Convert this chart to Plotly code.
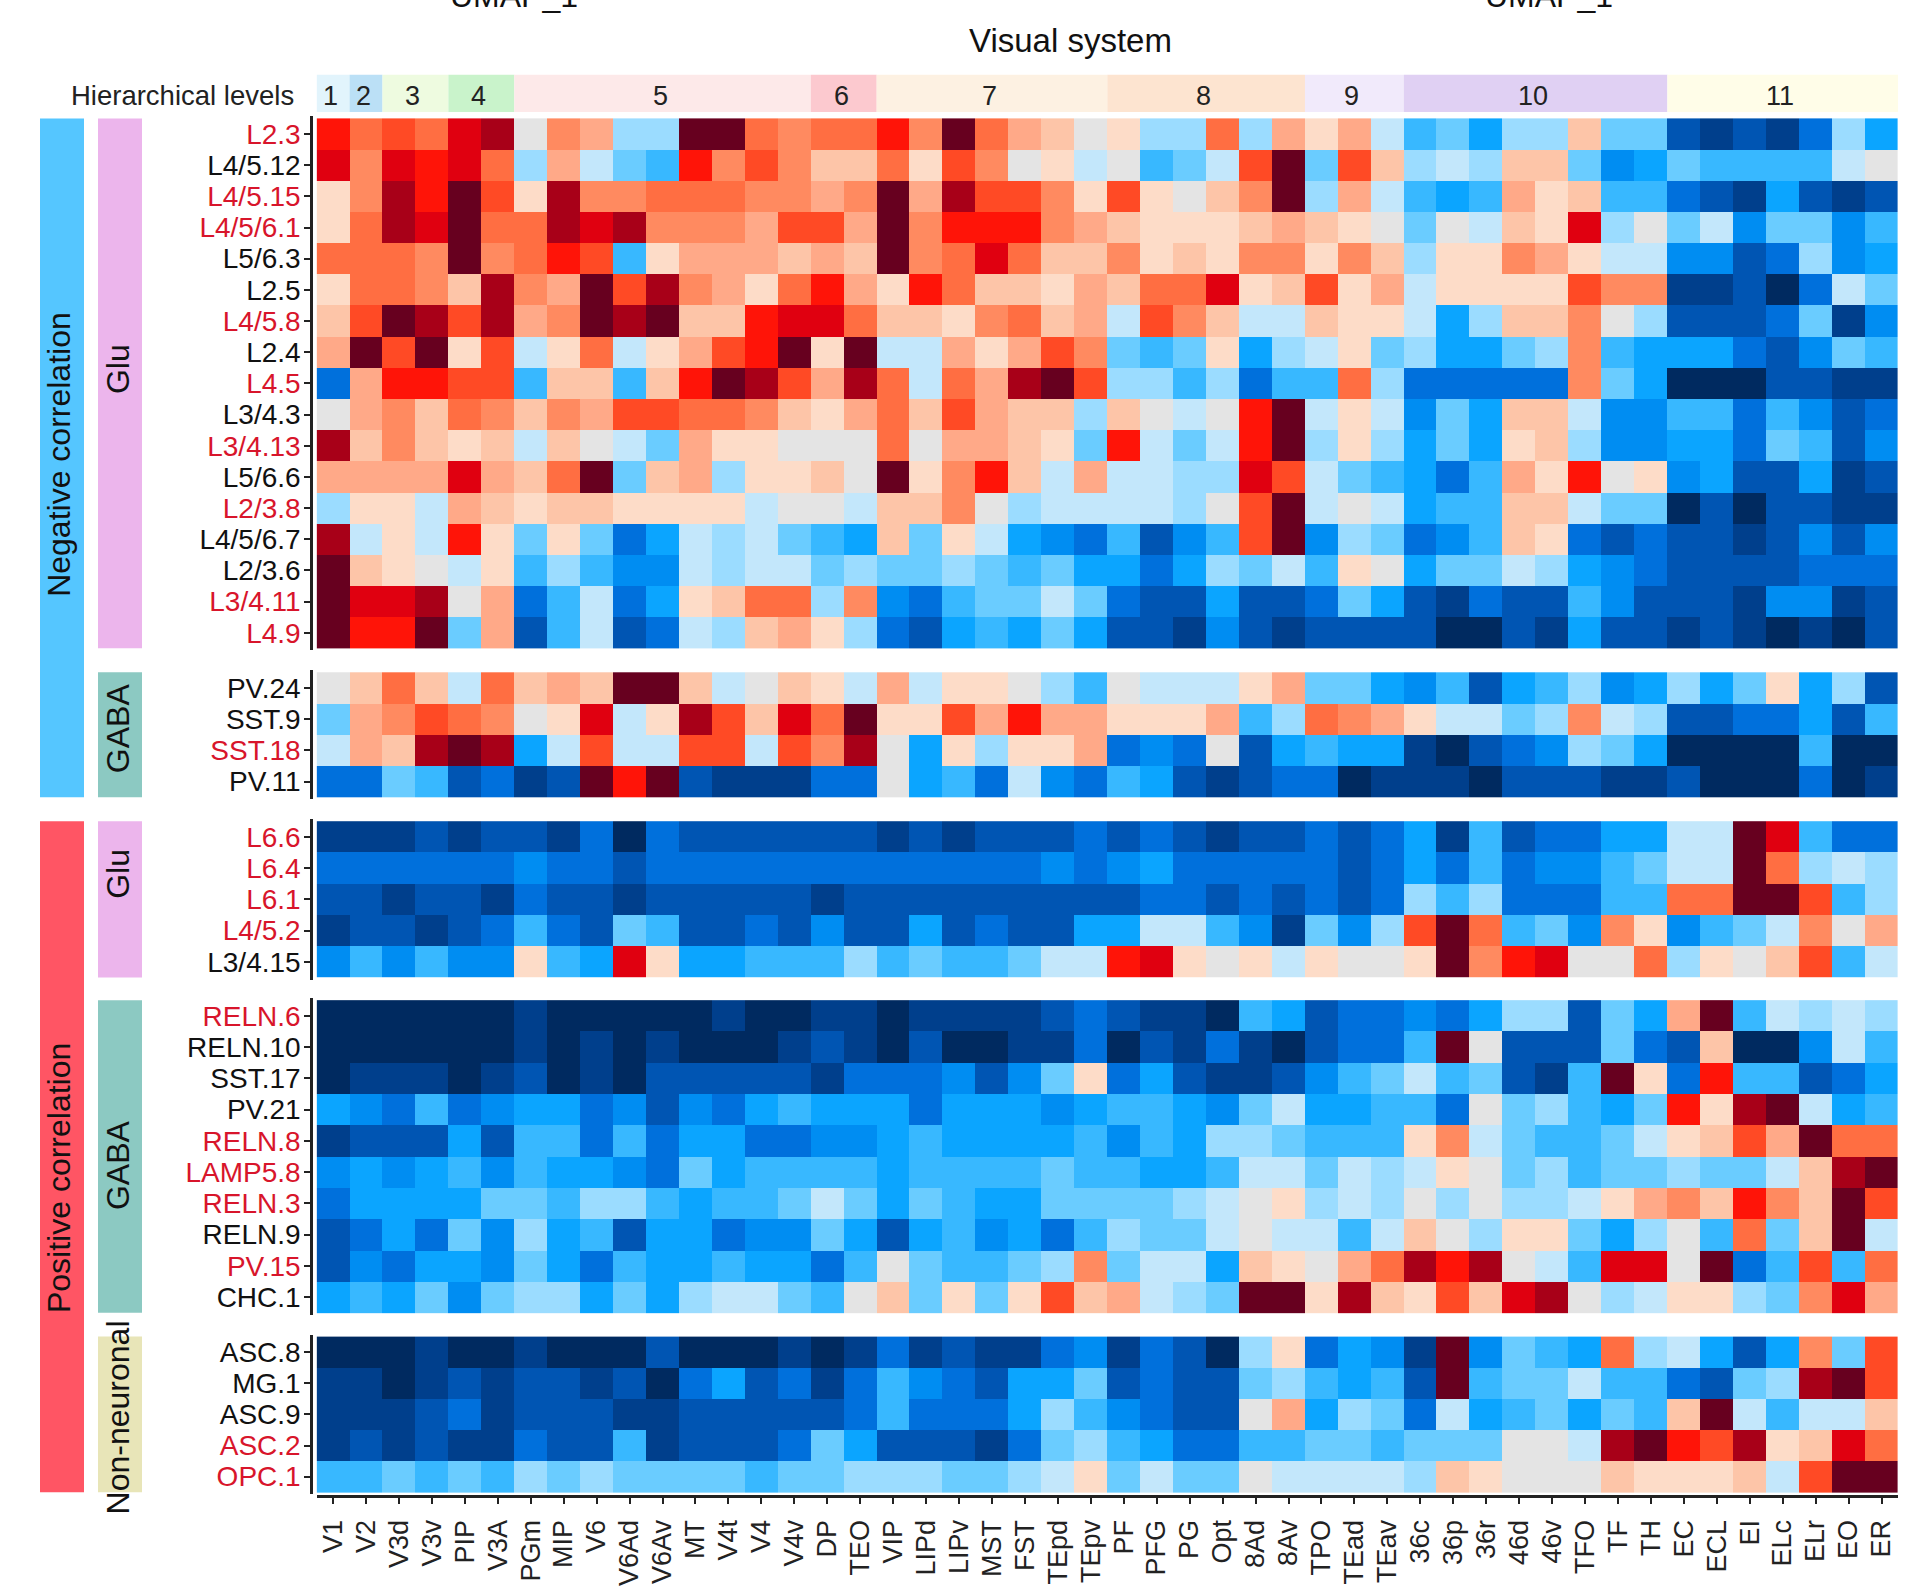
import plotly.graph_objects as go

areas = ["V1","V2","V3d","V3v","PIP","V3A","PGm","MIP","V6","V6Ad","V6Av","MT","V4t","V4","V4v","DP","TEO","VIP",
         "LIPd","LIPv","MST","FST","TEpd","TEpv","PF","PFG","PG","Opt","8Ad","8Av","TPO","TEad","TEav","36c","36p",
         "36r","46d","46v","TFO","TF","TH","EC","ECL","EI","ELc","ELr","EO","ER"]
level_names = ["1","2","3","4","5","6","7","8","9","10","11"]
level_sizes = [1,1,2,2,9,2,7,6,3,8,7]
level_colors = ["#e2f4fc","#bbe0f6","#eefbe0","#c9f3cb","#fde9e9","#fcc9cf","#fdf1e2","#fde4d0","#f1eafb","#e0d0f3","#fffde8"]

# correlation x 10
glu_neg_labels = ["L2.3","L4/5.12","L4/5.15","L4/5/6.1","L5/6.3","L2.5","L4/5.8","L2.4","L4.5","L3/4.3","L3/4.13",
                  "L5/6.6","L2/3.8","L4/5/6.7","L2/3.6","L3/4.11","L4.9"]
glu_neg = [
    [7,5,6,5,8,9,0,4,3,-2,-2,10,10,5,4,5,5,7,4,10,5,3,2,0,1,-2,-2,5,-2,3,1,3,-1,-4,-3,-5,-2,-2,2,-3,-3,-8,-9,-8,-9,-7,-2,-5],
    [8,4,8,7,8,5,-2,3,-1,-3,-4,7,4,6,4,2,2,5,1,6,4,0,1,-1,0,-4,-3,-1,6,10,-3,6,2,-2,-1,-2,2,2,-3,-6,-5,-3,-4,-4,-4,-4,-1,0],
    [1,4,9,7,10,6,1,9,4,4,5,5,5,4,4,3,4,10,3,9,6,6,4,1,6,1,0,2,4,10,-2,3,-1,-4,-5,-4,3,1,2,-4,-4,-7,-8,-9,-5,-8,-9,-8],
    [1,5,9,8,10,5,5,9,8,9,4,4,4,3,6,6,3,10,4,7,7,7,4,3,2,1,1,1,2,3,2,1,0,-3,0,-1,2,1,8,-2,0,-3,-1,-6,-3,-3,-6,-4],
    [5,5,5,4,10,4,5,7,6,-4,1,3,3,3,2,3,2,10,4,5,8,5,2,2,4,1,2,1,4,4,1,4,2,-2,1,1,4,3,1,-1,-1,-6,-6,-8,-7,-2,-6,-5],
    [1,5,5,4,2,9,4,3,10,6,9,4,3,1,5,7,3,1,7,5,2,2,1,3,2,5,5,8,1,2,6,1,3,-1,1,1,1,1,6,4,4,-9,-9,-8,-10,-7,-1,-3],
    [2,6,10,9,6,9,3,4,10,9,10,2,2,7,8,8,5,2,2,1,4,5,2,3,-1,6,4,2,-1,-1,2,1,1,-1,-5,-2,2,2,4,0,-2,-8,-8,-8,-7,-3,-9,-6],
    [3,10,6,10,1,6,-1,1,5,-1,1,3,6,7,10,1,10,-1,-1,3,1,3,6,4,-3,-4,-3,1,-5,-2,-1,1,-3,-2,-5,-5,-3,-2,4,-4,-5,-5,-5,-7,-8,-6,-3,-4],
    [-7,3,7,7,6,6,-4,2,2,-4,2,7,10,9,6,3,9,5,-1,5,3,9,10,6,-2,-2,-4,-2,-7,-4,-4,5,-2,-7,-7,-7,-7,-7,4,-3,-5,-10,-10,-10,-8,-8,-9,-9],
    [0,3,4,2,5,4,2,4,3,6,6,5,5,4,2,1,3,5,2,6,3,2,2,-2,2,0,-1,0,7,10,-1,1,-1,-6,-3,-5,2,2,-1,-6,-6,-4,-4,-7,-4,-6,-8,-7],
    [9,2,4,2,1,2,-1,2,0,-1,-3,3,1,1,0,0,0,5,0,3,3,2,1,-3,7,-1,-3,-1,7,10,-2,1,-2,-5,-3,-5,1,2,-2,-6,-6,-5,-5,-7,-3,-4,-8,-6],
    [3,3,3,3,8,3,2,5,10,-3,2,3,-2,1,1,2,0,10,1,4,7,2,-1,3,-1,-1,-2,-2,8,6,-1,-3,-4,-5,-7,-4,3,1,7,0,1,-6,-5,-8,-8,-5,-9,-8],
    [-2,1,1,-1,3,2,1,2,2,1,1,1,1,-1,0,0,-1,2,2,4,0,-2,-1,-1,-1,-1,-2,0,6,10,-1,0,-1,-5,-4,-4,2,2,-1,-3,-3,-10,-8,-10,-8,-8,-9,-9],
    [9,-1,1,-1,7,1,-3,1,-3,-7,-5,-1,-2,-1,-3,-4,-5,2,-3,1,-1,-5,-6,-7,-4,-8,-6,-4,6,10,-6,-2,-3,-7,-6,-4,2,1,-7,-8,-7,-8,-8,-9,-8,-6,-8,-6],
    [10,2,1,0,-1,1,-4,-2,-4,-6,-6,-1,-2,-1,-1,-3,-2,-3,-3,-2,-3,-4,-3,-5,-5,-7,-5,-2,-3,-1,-4,1,0,-5,-3,-3,-1,-2,-5,-6,-7,-8,-8,-8,-8,-7,-7,-7],
    [10,8,8,9,0,3,-7,-4,-1,-7,-5,1,2,5,5,-2,4,-6,-7,-4,-3,-3,-1,-3,-7,-8,-8,-5,-8,-8,-7,-3,-5,-8,-9,-7,-8,-8,-4,-6,-8,-8,-8,-9,-6,-6,-9,-8],
    [10,7,7,10,-3,3,-8,-4,-1,-8,-7,-1,-2,2,3,1,-2,-7,-8,-5,-4,-5,-3,-5,-8,-8,-9,-6,-8,-9,-8,-8,-8,-8,-10,-10,-8,-9,-5,-8,-8,-9,-8,-9,-10,-9,-10,-8],
]

gaba_neg_labels = ["PV.24","SST.9","SST.18","PV.11"]
gaba_neg = [
    [0,2,5,2,-1,5,2,3,2,10,10,2,-1,0,2,1,-1,3,-1,1,1,0,-2,-4,0,-1,-1,-1,1,3,-3,-3,-5,-6,-4,-8,-5,-4,-2,-6,-5,-2,-5,-3,1,-5,-2,-8],
    [-3,3,4,6,5,4,0,1,8,-1,1,9,6,2,8,5,10,1,1,6,3,7,3,3,1,1,1,3,-4,-2,5,4,3,1,-1,-1,-3,-2,4,-1,-2,-8,-8,-7,-7,-5,-8,-4],
    [-1,3,2,9,10,9,-5,-1,6,-1,-1,6,6,-1,6,4,9,0,-5,1,-2,1,1,3,-7,-6,-7,0,-8,-5,-4,-5,-5,-9,-10,-8,-7,-6,-2,-3,-5,-10,-10,-10,-10,-4,-10,-10],
    [-7,-7,-3,-4,-8,-7,-9,-8,10,7,10,-8,-9,-9,-9,-7,-7,0,-5,-4,-7,-1,-6,-7,-4,-5,-8,-9,-8,-7,-7,-10,-9,-9,-9,-10,-8,-8,-8,-9,-9,-8,-10,-10,-10,-7,-10,-9],
]

glu_pos_labels = ["L6.6","L6.4","L6.1","L4/5.2","L3/4.15"]
glu_pos = [
    [-9,-9,-9,-8,-9,-8,-8,-9,-7,-10,-7,-8,-8,-8,-8,-8,-8,-9,-8,-9,-8,-8,-8,-7,-8,-7,-8,-9,-8,-8,-7,-8,-7,-5,-9,-4,-8,-7,-7,-5,-5,-1,-1,10,8,-4,-7,-7],
    [-7,-7,-7,-7,-7,-7,-6,-7,-7,-8,-7,-7,-7,-7,-7,-7,-7,-7,-7,-7,-7,-7,-6,-7,-6,-5,-7,-7,-7,-7,-7,-8,-7,-5,-7,-4,-7,-6,-6,-4,-3,-1,-1,10,5,-2,-1,-2],
    [-8,-8,-9,-8,-8,-9,-7,-8,-8,-9,-8,-8,-8,-8,-8,-9,-8,-8,-8,-8,-8,-8,-8,-8,-8,-7,-7,-8,-7,-8,-7,-8,-7,-2,-4,-2,-7,-7,-7,-4,-4,5,5,10,10,6,-4,-2],
    [-9,-8,-8,-9,-8,-7,-4,-7,-8,-3,-4,-8,-8,-7,-8,-6,-8,-8,-5,-8,-7,-8,-8,-5,-5,-1,-1,-4,-6,-9,-3,-6,-2,6,10,5,-4,-3,-6,4,1,-6,-4,-3,-1,4,0,3],
    [-6,-4,-6,-4,-6,-6,1,-4,-5,8,1,-5,-5,-4,-4,-4,-2,-4,-3,-4,-4,-3,-1,-1,7,8,1,0,1,-1,1,0,0,1,10,4,7,8,0,0,5,-2,1,0,2,6,-4,-1],
]

gaba_pos_labels = ["RELN.6","RELN.10","SST.17","PV.21","RELN.8","LAMP5.8","RELN.3","RELN.9","PV.15","CHC.1"]
gaba_pos = [
    [-10,-10,-10,-10,-10,-10,-9,-10,-10,-10,-10,-10,-9,-10,-10,-9,-9,-10,-9,-9,-9,-9,-8,-7,-8,-9,-9,-10,-4,-5,-8,-7,-7,-6,-7,-5,-2,-2,-8,-3,-5,3,10,-4,-1,-2,-1,-2],
    [-10,-10,-10,-10,-10,-10,-9,-10,-9,-10,-9,-10,-10,-10,-9,-8,-9,-10,-8,-10,-10,-9,-9,-7,-10,-8,-9,-7,-9,-10,-8,-7,-7,-4,10,0,-8,-8,-8,-3,-7,-8,2,-10,-10,-6,-1,-4],
    [-10,-9,-9,-9,-10,-9,-8,-10,-9,-10,-8,-8,-8,-8,-8,-9,-7,-7,-7,-6,-8,-6,-3,1,-7,-5,-8,-9,-9,-8,-6,-4,-3,-1,-4,-3,-8,-9,-4,10,1,-7,7,-4,-4,-8,-7,-5],
    [-5,-6,-7,-4,-7,-6,-5,-5,-7,-6,-8,-6,-7,-5,-4,-5,-5,-5,-7,-5,-5,-5,-6,-5,-4,-4,-5,-6,-3,-1,-5,-5,-4,-4,-7,0,-3,-2,-4,-5,-3,7,1,9,10,-1,-5,-4],
    [-9,-8,-8,-8,-5,-8,-4,-4,-7,-4,-7,-5,-5,-7,-7,-6,-6,-5,-4,-5,-5,-5,-5,-4,-6,-4,-5,-2,-2,-3,-4,-4,-4,1,4,-1,-3,-4,-4,-3,-1,1,2,6,3,10,5,5],
    [-6,-5,-6,-5,-4,-6,-4,-5,-5,-6,-7,-3,-5,-4,-4,-4,-4,-5,-4,-4,-4,-4,-3,-4,-4,-5,-5,-4,-1,-1,-3,-1,-2,-1,1,0,-3,-2,-4,-3,-3,-2,-3,-3,-1,2,9,10],
    [-7,-5,-5,-5,-5,-3,-3,-4,-2,-2,-4,-5,-4,-4,-3,-1,-3,-5,-3,-4,-5,-5,-3,-3,-3,-3,-2,-1,0,1,-2,-1,-2,0,-2,0,-2,-2,-1,1,3,4,2,7,4,2,10,6],
    [-8,-7,-5,-7,-3,-6,-2,-5,-4,-8,-5,-5,-7,-6,-6,-3,-5,-8,-5,-4,-6,-5,-7,-4,-2,-3,-3,-1,0,-1,-1,-4,-1,2,0,-2,1,1,-3,-5,-2,0,-4,5,-3,2,10,-1],
    [-8,-6,-7,-5,-5,-6,-3,-5,-7,-4,-5,-5,-4,-5,-5,-7,-4,0,-3,-4,-4,-3,-2,4,-3,-1,-1,-5,2,1,0,3,5,9,7,9,0,-1,-4,8,8,0,10,-7,-4,6,-4,5],
    [-5,-4,-5,-3,-6,-3,-2,-2,-5,-3,-5,-2,-1,-1,-3,-4,0,2,-3,1,-3,1,6,2,3,-1,-2,-3,10,10,1,9,2,1,6,2,8,9,0,-2,-1,1,1,-2,-3,4,8,3],
]

nonneuronal_labels = ["ASC.8","MG.1","ASC.9","ASC.2","OPC.1"]
nonneuronal = [
    [-10,-10,-10,-9,-10,-10,-9,-10,-10,-10,-8,-10,-10,-10,-9,-10,-9,-7,-9,-8,-9,-9,-7,-6,-9,-7,-8,-10,-2,1,-7,-5,-6,-9,10,-6,-3,-4,-5,5,-2,-1,-5,-8,-5,4,-3,6],
    [-9,-9,-10,-9,-8,-9,-8,-8,-9,-8,-10,-7,-5,-8,-7,-9,-7,-4,-6,-7,-8,-5,-5,-3,-8,-7,-8,-8,-3,-2,-4,-5,-4,-8,10,-4,-3,-3,-1,-4,-4,-7,-8,-3,-2,9,10,6],
    [-9,-9,-9,-8,-7,-9,-8,-8,-8,-9,-9,-8,-8,-8,-8,-8,-7,-4,-7,-7,-7,-5,-2,-4,-6,-7,-8,-8,0,3,-5,-2,-3,-7,-1,-5,-4,-3,-5,-3,-4,2,10,-1,-4,-1,-1,2],
    [-9,-8,-9,-8,-9,-9,-7,-8,-8,-4,-9,-8,-8,-8,-7,-3,-5,-8,-8,-8,-9,-7,-3,-2,-4,-5,-7,-7,-4,-4,-3,-3,-4,-3,-3,-3,0,0,-1,9,10,7,6,9,1,2,8,5],
    [-4,-4,-3,-4,-3,-4,-2,-3,-2,-3,-3,-3,-3,-4,-3,-3,-2,-2,-2,-3,-3,-2,-1,1,-3,-1,-3,-3,0,-1,-1,-1,-1,-2,2,1,0,0,0,2,1,1,1,2,-1,6,10,10],
]

red_labels = ["L2.3","L4/5.15","L4/5/6.1","L4/5.8","L4.5","L3/4.13","L2/3.8","L3/4.11","L4.9","SST.18","L6.6","L6.4","L6.1",
              "L4/5.2","RELN.6","RELN.8","LAMP5.8","RELN.3","PV.15","ASC.2","OPC.1"]

colorscale_hex = ["#002a60","#003f8c","#0055b3","#0070dc","#008df2","#0ba5ff","#38b8ff","#6accff","#9bdcff","#c3e7fb","#e4e4e4",
                  "#fddcc8","#fdc5a8","#ffa988","#ff8a60","#ff6e42","#ff4a25","#ff1408","#e00010","#a80018","#67001f"]
colorscale = [[i / 20, c] for i, c in enumerate(colorscale_hex)]

W = 1920
H = 1586
FONT = "Liberation Sans"


def px(x):
    return x / W


def py(y):
    return 1 - y / H


fig = go.Figure()

# panel tops/bottoms in page pixels
panels = [
    (glu_neg, glu_neg_labels, 118.7, 650),
    (gaba_neg, gaba_neg_labels, 674, 799.3),
    (glu_pos, glu_pos_labels, 823.3, 980),
    (gaba_pos, gaba_pos_labels, 1002.7, 1316),
    (nonneuronal, nonneuronal_labels, 1340, 1496),
]

for i, (values, labels, top, bottom) in enumerate(panels):
    name = "y" if i == 0 else "y%d" % (i + 1)
    fig.add_trace(go.Heatmap(z=values, x=areas, y=labels, xaxis="x", yaxis=name, zmin=-10, zmax=10,
                             colorscale=colorscale, showscale=False))
    ticktext = []
    for lab in labels:
        if lab in red_labels:
            ticktext.append('<span style="color:#d8152b">%s</span>' % lab)
        else:
            ticktext.append(lab)
    n = len(labels)
    pad = 2 * n / (bottom - top)
    fig.update_layout({"yaxis" if i == 0 else "yaxis%d" % (i + 1): dict(
        domain=[py(bottom + 2), py(top - 2)],
        range=[n - 0.5 + pad, -0.5 - pad],
        anchor="free",
        position=px(311),
        showline=True, linecolor="#222222", linewidth=2.5,
        ticks="outside", ticklen=6, tickwidth=2, tickcolor="#222222",
        tickmode="array", tickvals=labels, ticktext=ticktext,
        ticklabelstandoff=-2,
        tickfont=dict(family=FONT, size=28, color="#111111"),
        showgrid=False, zeroline=False,
    )})

fig.update_layout(
    width=W, height=H, margin=dict(l=0, r=0, t=0, b=0), autosize=False,
    paper_bgcolor="white", plot_bgcolor="white",
    xaxis=dict(
        domain=[px(316.6), px(1898)],
        range=[-0.5, 47.5],
        anchor="free",
        position=py(1500),
        showline=True, linecolor="#222222", linewidth=3,
        ticks="outside", ticklen=6, tickwidth=2, tickcolor="#222222",
        tickmode="array", tickvals=areas, ticktext=areas, tickangle=-90,
        ticklabelstandoff=5,
        tickfont=dict(family=FONT, size=27, color="#222222"),
        showgrid=False, zeroline=False,
    ),
)

# hierarchical level strip
start = 0
for name, size, color in zip(level_names, level_sizes, level_colors):
    fig.add_shape(type="rect", xref="x", yref="paper", x0=start - 0.5, x1=start + size - 0.5,
                  y0=py(112.3), y1=py(75), fillcolor=color, line_width=0, layer="below")
    fig.add_annotation(text=name, x=start + (size - 1) / 2, xref="x", y=py(96), yref="paper",
                       xanchor="center", yanchor="middle", xshift=-2.5,
                       showarrow=False, font=dict(family=FONT, size=27, color="#222222"))
    start += size

# side bars: x0, x1, top, bottom, colour
side_bars = [
    (40, 84, 118.7, 799.3, "#55c6ff"),
    (40, 84, 823.3, 1496, "#ff5564"),
    (98, 142, 118.7, 650, "#ecb5ec"),
    (98, 142, 674, 799.3, "#8cc9c2"),
    (98, 142, 823.3, 980, "#ecb5ec"),
    (98, 142, 1002.7, 1316, "#8cc9c2"),
    (98, 142, 1340, 1496, "#e8e5b8"),
]
for x0, x1, top, bottom, color in side_bars:
    fig.add_shape(type="rect", xref="paper", yref="paper", x0=px(x0), x1=px(x1), y0=py(bottom), y1=py(top),
                  fillcolor=color, line_width=0, layer="below")

side_texts = [
    ("Negative correlation", 59, 456),
    ("Positive correlation", 59, 1181),
    ("Glu", 118, 370),
    ("GABA", 118, 730),
    ("Glu", 118, 876),
    ("GABA", 118, 1168),
    ("Non-neuronal", 118, 1421),
]
for text, x, y in side_texts:
    fig.add_annotation(text=text, x=px(x), y=py(y), xref="paper", yref="paper", textangle=-90, showarrow=False,
                       xanchor="center", yanchor="middle",
                       font=dict(family=FONT, size=32, color="#111111"))

fig.add_annotation(text="Hierarchical levels", x=px(296), y=py(96), xref="paper", yref="paper", xanchor="right",
                   yanchor="middle", showarrow=False, font=dict(family=FONT, size=27.5, color="#222222"))
fig.add_annotation(text="Visual system", x=px(1070), y=py(41), xref="paper", yref="paper", xanchor="center",
                   yanchor="middle", showarrow=False, font=dict(family=FONT, size=33, color="#111111"))
# cut off by the page edge in the original
for x in [514, 1549]:
    fig.add_annotation(text="UMAP_1", x=px(x), y=py(16), xref="paper", yref="paper", xanchor="center",
                       yanchor="bottom", showarrow=False, font=dict(family=FONT, size=32, color="#111111"))

fig.write_html("out.html", config={"displayModeBar": False}, post_script="document.body.style.margin='0';")
